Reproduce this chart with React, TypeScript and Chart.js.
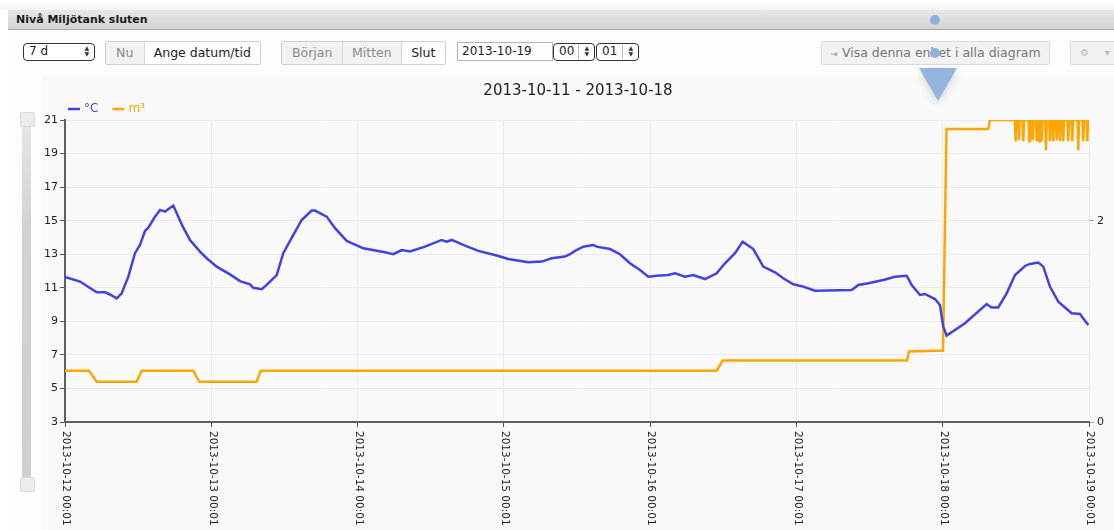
import React, { useEffect, useRef } from "react";
import { Chart, registerables } from "chart.js";

Chart.register(...registerables);

// ---------- data ----------
const chartTitle = "2013-10-11 - 2013-10-18";
const panelTitle = "Nivå Miljötank sluten";

const xTickHours = [0, 24, 48, 72, 96, 120, 144, 168];
const xTickLabels = [
  "2013-10-12 00:01",
  "2013-10-13 00:01",
  "2013-10-14 00:01",
  "2013-10-15 00:01",
  "2013-10-16 00:01",
  "2013-10-17 00:01",
  "2013-10-18 00:01",
  "2013-10-19 00:01",
];
const leftTicks = [3, 5, 7, 9, 11, 13, 15, 17, 19, 21];
const rightTicks = [0, 2];

const tempLabel = "°C";
const tempHours = [
  0, 2.46, 5.2, 6.56, 7.38, 8.48, 9.3, 10.39, 11.48, 12.3, 13.13, 13.67, 14.77, 15.59, 16.41, 17.77,
  18.59, 19.41, 20.51, 22.15, 23.25, 24.89, 27.07, 28.71, 30.35, 30.89, 32.27, 33.09, 34.73, 35.81,
  37.46, 38.83, 40.47, 41.02, 42.93, 44.3, 46.22, 48.94, 52.5, 53.86, 55.24, 56.6, 59.06, 61.8,
  62.62, 63.44, 65.63, 67.81, 70.83, 72.73, 76.01, 78.21, 79.85, 82.03, 82.85, 83.67, 85.03, 86.67,
  87.23, 89.41, 91.05, 92.69, 94.33, 95.7, 97.07, 98.98, 100.08, 101.72, 103.08, 105.0, 106.92,
  108.28, 109.92, 111.18, 112.92, 114.56, 116.48, 117.84, 119.48, 121.12, 123.05, 129.07, 130.15,
  131.79, 134.25, 136.17, 138.09, 138.91, 140.27, 141.09, 142.73, 143.55, 144.09, 144.65, 147.65,
  151.21, 152.03, 153.11, 154.49, 155.86, 157.5, 158.31, 159.68, 160.5, 161.59, 162.96, 165.15,
  166.52, 167.88,
];
const tempValues = [
  11.65, 11.37, 10.73, 10.73, 10.6, 10.37, 10.67, 11.66, 13.06, 13.55, 14.39, 14.58, 15.24, 15.64,
  15.54, 15.9, 15.24, 14.58, 13.85, 13.16, 12.76, 12.26, 11.8, 11.4, 11.2, 11.0, 10.91, 11.17, 11.76,
  13.06, 14.15, 15.04, 15.6, 15.6, 15.24, 14.55, 13.79, 13.35, 13.12, 13.0, 13.25, 13.16, 13.45,
  13.85, 13.75, 13.85, 13.51, 13.2, 12.92, 12.72, 12.52, 12.56, 12.76, 12.86, 13.0, 13.2, 13.45,
  13.55, 13.45, 13.31, 13.0, 12.46, 12.06, 11.66, 11.72, 11.76, 11.86, 11.66, 11.76, 11.52, 11.86,
  12.46, 13.06, 13.75, 13.31, 12.26, 11.92, 11.57, 11.21, 11.07, 10.83, 10.87, 11.17, 11.27, 11.46,
  11.66, 11.72, 11.17, 10.57, 10.63, 10.33, 9.97, 8.68, 8.15, 8.89, 10.03, 9.82, 9.83, 10.67, 11.76,
  12.3, 12.42, 12.5, 12.26, 11.07, 10.17, 9.48, 9.44, 8.78,
];

const volumeLabel = "m³";
const volumeHours = [
  0, 3.94, 5.2, 11.76, 12.58, 21.05, 22.03, 31.45, 32.11, 106.92, 107.9, 138.14, 138.47, 144.05,
  144.62, 151.47, 151.75,
  155.85, 155.97, 156.09, 156.39, 156.51, 156.63, 157.1, 157.22, 157.34, 158.08, 158.2, 158.32,
  158.64, 158.76, 158.88, 159.3, 159.42, 159.54, 159.72, 159.84, 159.96, 160.12, 160.24, 160.36,
  160.82, 160.94, 161.06, 161.48, 161.6, 161.72, 162.02, 162.14, 162.26, 162.58, 162.7, 162.82,
  163.12, 163.24, 163.36, 163.66, 163.78, 163.9, 164.48, 164.6, 164.72, 165.14, 165.26, 165.38,
  166.12, 166.24, 166.36, 166.94, 167.06, 167.18, 167.6, 167.72, 167.84, 168,
];
const volumeValues = [
  0.51, 0.51, 0.4, 0.4, 0.51, 0.51, 0.4, 0.4, 0.51, 0.51, 0.61, 0.61, 0.7, 0.71, 2.91, 2.91, 3.0,
  3.0, 2.79, 3.0, 3.0, 2.8, 3.0, 3.0, 2.79, 3.0, 3.0, 2.79, 3.0, 3.0, 2.8, 3.0, 3.0, 2.79, 3.0,
  3.0, 2.79, 3.0, 3.0, 2.79, 3.0, 3.0, 2.7, 3.0, 3.0, 2.79, 3.0, 3.0, 2.79, 3.0, 3.0, 2.8, 3.0,
  3.0, 2.79, 3.0, 3.0, 2.79, 3.0, 3.0, 2.79, 3.0, 3.0, 2.79, 3.0, 3.0, 2.7, 3.0, 3.0, 2.79, 3.0,
  3.0, 2.79, 3.0, 3.0,
];

const tempColor = "rgb(66,66,222)";
const volumeColor = "#ffa500";
const FONT = '"DejaVu Sans", Verdana, sans-serif';

// ---------- plugins ----------
const xLabelPlugin = {
  id: "xRotatedLabels",
  afterDraw(chart: any) {
    const sc = chart.scales.x;
    const ctx = chart.ctx;
    ctx.save();
    ctx.font = `10.5px ${FONT}`;
    ctx.fillStyle = "#222";
    ctx.textAlign = "left";
    ctx.textBaseline = "middle";
    xTickHours.forEach((h, i) => {
      const px = sc.getPixelForValue(h);
      ctx.save();
      ctx.translate(px + 1, sc.top + 9);
      ctx.rotate(Math.PI / 2);
      ctx.fillText(xTickLabels[i], 0, 0);
      ctx.restore();
    });
    ctx.restore();
  },
};

const miniLegendPlugin = {
  id: "miniLegend",
  afterDraw(chart: any) {
    const ctx = chart.ctx;
    ctx.save();
    ctx.font = `12px ${FONT}`;
    ctx.textBaseline = "middle";
    ctx.textAlign = "left";
    let x = chart.chartArea.left + 3;
    const y = 33;
    chart.data.datasets.forEach((ds: any) => {
      ctx.strokeStyle = ds.borderColor;
      ctx.lineWidth = 2.5;
      ctx.beginPath();
      ctx.moveTo(x, y);
      ctx.lineTo(x + 12, y);
      ctx.stroke();
      ctx.fillStyle = ds.borderColor;
      ctx.fillText(ds.label, x + 16, y);
      x += 16 + ctx.measureText(ds.label).width + 14;
    });
    ctx.restore();
  },
};

// ---------- chart ----------
function LevelChart() {
  const ref = useRef<HTMLCanvasElement | null>(null);
  useEffect(() => {
    if (!ref.current) return;
    const chart = new Chart(ref.current, {
      type: "line",
      data: {
        datasets: [
          {
            label: tempLabel,
            data: tempHours.map((h, i) => ({ x: h, y: tempValues[i] })),
            borderColor: tempColor,
            backgroundColor: tempColor,
            borderWidth: 2.5,
            pointRadius: 0,
            tension: 0,
            yAxisID: "y",
          },
          {
            label: volumeLabel,
            data: volumeHours.map((h, i) => ({ x: h, y: volumeValues[i] })),
            borderColor: volumeColor,
            backgroundColor: volumeColor,
            borderWidth: 2.5,
            pointRadius: 0,
            tension: 0,
            yAxisID: "y1",
          },
        ],
      },
      options: {
        animation: false,
        responsive: false,
        events: [],
        layout: { padding: 0 },
        plugins: {
          legend: { display: false },
          tooltip: { enabled: false },
          title: {
            display: true,
            text: chartTitle,
            color: "#222",
            font: { family: FONT, size: 15, weight: "normal" as any },
            padding: { top: 6, bottom: 20 },
          },
        },
        scales: {
          x: {
            type: "linear",
            min: 0,
            max: 168,
            afterBuildTicks: (s: any) => {
              s.ticks = xTickHours.map((v) => ({ value: v }));
            },
            afterFit: (s: any) => {
              s.height = 108;
            },
            ticks: { display: false },
            grid: { color: "#ebebeb", tickColor: "#555", tickLength: 5, lineWidth: 1 },
            border: { color: "#606060", width: 2 },
          },
          y: {
            type: "linear",
            position: "left",
            min: 3,
            max: 21,
            afterBuildTicks: (s: any) => {
              s.ticks = leftTicks.map((v) => ({ value: v }));
            },
            afterFit: (s: any) => {
              s.width = 23;
            },
            ticks: { color: "#222", font: { family: FONT, size: 11 }, padding: 2 },
            grid: { color: "#ebebeb", tickColor: "#555", tickLength: 5 },
            border: { color: "#606060", width: 2 },
          },
          y1: {
            type: "linear",
            position: "right",
            min: 0,
            max: 3,
            afterBuildTicks: (s: any) => {
              s.ticks = rightTicks.map((v) => ({ value: v }));
            },
            afterFit: (s: any) => {
              s.width = 25;
            },
            ticks: { color: "#222", font: { family: FONT, size: 11 }, padding: 3 },
            grid: { drawOnChartArea: false, tickColor: "#c9a27a", tickLength: 5 },
            border: { display: false },
          },
        },
      },
      plugins: [xLabelPlugin, miniLegendPlugin],
    } as any);
    return () => chart.destroy();
  }, []);
  return <canvas ref={ref} width={1072} height={454} style={{ display: "block" }} />;
}

// ---------- UI pieces ----------
const abs = (l: number, t: number, w: number, h: number, extra: any = {}) => ({
  position: "absolute" as const,
  left: l,
  top: t,
  width: w,
  height: h,
  boxSizing: "border-box" as const,
  ...extra,
});

function Arrows() {
  return (
    <span style={{ position: "absolute", right: 5, top: 1, display: "flex", flexDirection: "column", fontSize: 6, lineHeight: "6px", color: "#333" }}>
      <span>▲</span>
      <span>▼</span>
    </span>
  );
}

function SelectBox({ l, t, w, text, sep }: { l: number; t: number; w: number; text: string; sep?: boolean }) {
  return (
    <div style={abs(l, t, w, 18, { border: "1.5px solid #333", borderRadius: 4, background: "#fff", fontSize: 12, lineHeight: "15px", paddingLeft: 5, color: "#222" })}>
      {text}
      {sep ? <span style={{ position: "absolute", right: 15, top: 1, bottom: 1, width: 1, background: "#bbb" }} /> : null}
      <Arrows />
    </div>
  );
}

function Group({ l, t, items }: { l: number; t: number; items: { w: number; text: string; active: boolean }[] }) {
  const total = items.reduce((a, b) => a + b.w, 0);
  return (
    <div style={abs(l, t, total, 24, { border: "1px solid #d0d0d0", borderRadius: 2, display: "flex", overflow: "hidden", background: "#fff" })}>
      {items.map((it, i) => (
        <div
          key={i}
          style={{
            width: it.w,
            height: "100%",
            boxSizing: "border-box",
            borderLeft: i ? "1px solid #d8d8d8" : "none",
            background: it.active ? "#fff" : "#f1f1f1",
            color: it.active ? "#222" : "#8a8a8a",
            fontSize: 12.5,
            lineHeight: "22px",
            textAlign: "center",
          }}
        >
          {it.text}
        </div>
      ))}
    </div>
  );
}

export default function App() {
  return (
    <div style={{ position: "fixed", left: 0, top: 0, width: 1114, height: 530, overflow: "hidden", background: "#fff", fontFamily: FONT }}>
      {/* top strip */}
      <div style={abs(0, 0, 1114, 10, { background: "linear-gradient(#ffffff, #f4f4f4)" })} />
      {/* header bar */}
      <div
        style={abs(8, 10, 1106, 20, {
          background: "linear-gradient(#e8e8e8, #d3d3d3)",
          borderBottom: "1px solid #a8a8a8",
          fontWeight: "bold",
          fontSize: 11,
          lineHeight: "19px",
          paddingLeft: 8,
          color: "#1a1a1a",
        })}
      >
        {panelTitle}
      </div>
      {/* panel body */}
      <div style={abs(10, 30, 1104, 500, { background: "#fdfdfd" })} />

      {/* controls */}
      <SelectBox l={23} t={43} w={72} text="7 d" />
      <Group l={105} t={41} items={[{ w: 38, text: "Nu", active: false }, { w: 118, text: "Ange datum/tid", active: true }]} />
      <Group
        l={281}
        t={41}
        items={[
          { w: 61, text: "Början", active: false },
          { w: 59, text: "Mitten", active: false },
          { w: 45, text: "Slut", active: true },
        ]}
      />
      <div style={abs(457, 42, 96, 19, { border: "1px solid #b5b5b5", background: "#fff", fontSize: 12, lineHeight: "17px", paddingLeft: 4, color: "#222" })}>
        2013-10-19
      </div>
      <SelectBox l={553} t={43} w={42} text="00" sep />
      <SelectBox l={596} t={43} w={43} text="01" sep />
      <div
        style={abs(821, 41, 229, 24, {
          border: "1px solid #dcdcdc",
          borderRadius: 2,
          background: "#f2f2f2",
          color: "#777",
          fontSize: 12.5,
          lineHeight: "22px",
          textAlign: "center",
        })}
      >
        <span style={{ fontSize: 9, color: "#999" }}>⇥</span> Visa denna enhet i alla diagram
      </div>
      <div style={abs(1070, 41, 60, 24, { border: "1px solid #dcdcdc", borderRadius: 2, background: "#f2f2f2", color: "#bbb", fontSize: 10, lineHeight: "22px", paddingLeft: 9 })}>
        ⚙&nbsp;&nbsp;&nbsp;&nbsp;&nbsp;▾
      </div>

      {/* chart background and canvas */}
      <div style={abs(42, 76, 1072, 454, { background: "#f9f9f9" })} />
      <div style={abs(42, 76, 1072, 454)}>
        <LevelChart />
      </div>

      {/* vertical range slider */}
      <div style={abs(22, 119, 9, 364, { background: "linear-gradient(#e6e6e6 0%, #d2d2d2 30%, #d0d0d0 100%)" })} />
      <div style={abs(20, 112, 15, 15, { background: "#ececec", border: "1px solid #dadada", borderRadius: 2 })} />
      <div style={abs(20, 477, 15, 15, { background: "#ececec", border: "1px solid #dadada", borderRadius: 2 })} />

      {/* help overlay pointer */}
      <div style={abs(930, 15, 10, 10, { borderRadius: 5, background: "#8eb1dc" })} />
      <div style={abs(930, 48, 10, 10, { borderRadius: 5, background: "#8eb1dc" })} />
      <div
        style={abs(919, 68, 0, 0, {
          borderLeft: "19px solid transparent",
          borderRight: "19px solid transparent",
          borderTop: "33px solid #93b5dd",
          filter: "drop-shadow(0 3px 4px rgba(0,0,0,0.15))",
        })}
      />
    </div>
  );
}
